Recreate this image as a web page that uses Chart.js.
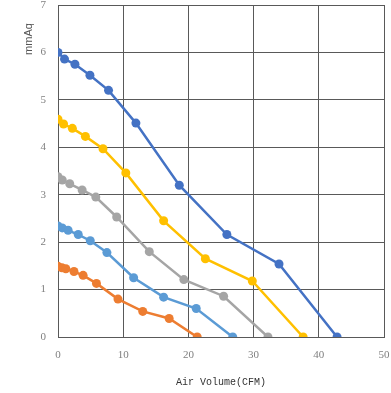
<!DOCTYPE html>
<html>
<head>
<meta charset="utf-8">
<script src="https://cdn.jsdelivr.net/npm/chart.js@4/dist/chart.umd.min.js"></script>
<style>
  html, body { margin: 0; padding: 0; background: #fff; }
  #wrap { width: 391px; height: 393px; }
</style>
</head>
<body>
<div id="wrap"><canvas id="pqChart" width="391" height="393"></canvas></div>
<script>
// fan P-Q curves, air volume (CFM) vs static pressure (mmAq)
const xTicks = [0, 10, 20, 30, 40, 50];
const yTicks = [0, 1, 2, 3, 4, 5, 6, 7];

const flowA = [0, 1.0, 2.6, 4.9, 7.75, 11.95, 18.6, 25.9, 33.9, 42.8];
const presA = [6.0, 5.86, 5.75, 5.52, 5.2, 4.51, 3.2, 2.16, 1.54, 0];

const flowB = [0, 0.85, 2.2, 4.2, 6.9, 10.4, 16.2, 22.6, 29.8, 37.6];
const presB = [4.59, 4.49, 4.4, 4.23, 3.97, 3.46, 2.45, 1.65, 1.18, 0];

const flowC = [0, 0.65, 1.8, 3.7, 5.8, 9.0, 14.0, 19.3, 25.4, 32.2];
const presC = [3.38, 3.31, 3.23, 3.1, 2.95, 2.53, 1.8, 1.21, 0.86, 0];

const flowD = [0, 0.65, 1.55, 3.1, 4.95, 7.5, 11.6, 16.2, 21.2, 26.8];
const presD = [2.34, 2.3, 2.25, 2.16, 2.03, 1.78, 1.25, 0.84, 0.6, 0];

const flowE = [0, 0.6, 1.2, 2.45, 3.85, 5.9, 9.2, 13.0, 17.05, 21.35];
const presE = [1.49, 1.46, 1.44, 1.38, 1.3, 1.13, 0.8, 0.54, 0.39, 0];

const colors = ['#4472C4', '#FFC000', '#A5A5A5', '#5B9BD5', '#ED7D31'];

function pts(xs, ys) {
  return xs.map((x, i) => ({ x: x, y: ys[i] }));
}

function curve(xs, ys, color) {
  return {
    data: pts(xs, ys),
    borderColor: color,
    backgroundColor: color,
    borderWidth: 2.5,
    pointRadius: 4.5,
    pointHoverRadius: 4.5,
    pointBorderWidth: 0,
    tension: 0
  };
}

// y axis title sits near the top, not centred
const yTitle = {
  id: 'yTitle',
  afterDraw(chart) {
    const c = chart.ctx;
    c.save();
    c.translate(29, 39);
    c.rotate(-Math.PI / 2);
    c.font = '11px "Liberation Sans", Arial, sans-serif';
    c.fillStyle = '#555';
    c.textAlign = 'center';
    c.textBaseline = 'middle';
    c.fillText('mmAq', 0, 0);
    c.restore();
  }
};

const gridColor = '#595959';
const tickFont = { family: '"Liberation Serif", "DejaVu Serif", serif', size: 11 };

new Chart(document.getElementById('pqChart'), {
  type: 'line',
  data: {
    datasets: [
      curve(flowA, presA, colors[0]),
      curve(flowB, presB, colors[1]),
      curve(flowC, presC, colors[2]),
      curve(flowD, presD, colors[3]),
      curve(flowE, presE, colors[4])
    ]
  },
  options: {
    responsive: false,
    animation: false,
    layout: { padding: { top: 5, right: 7, bottom: 0, left: 0 } },
    plugins: {
      legend: { display: false },
      tooltip: { enabled: false }
    },
    scales: {
      x: {
        type: 'linear',
        min: 0,
        max: 50,
        afterBuildTicks(scale) { scale.ticks = xTicks.map(v => ({ value: v })); },
        afterFit(scale) {
          scale.height = 56;
          scale.paddingLeft = 0;
          scale.paddingRight = 0;
        },
        grid: { color: gridColor, drawTicks: false, lineWidth: 1 },
        border: { color: gridColor, width: 1 },
        ticks: { color: '#808080', font: tickFont, padding: 12, maxRotation: 0 },
        title: {
          display: true,
          text: 'Air Volume(CFM)',
          color: '#333',
          font: { family: '"Liberation Mono", "DejaVu Sans Mono", monospace', size: 10 },
          padding: { top: 0, bottom: 5 }
        }
      },
      y: {
        type: 'linear',
        min: 0,
        max: 7,
        afterBuildTicks(scale) { scale.ticks = yTicks.map(v => ({ value: v })); },
        afterFit(scale) {
          scale.width = 58;
          scale.paddingTop = 0;
          scale.paddingBottom = 0;
        },
        grid: { color: gridColor, drawTicks: false, lineWidth: 1 },
        border: { color: gridColor, width: 1 },
        ticks: { color: '#808080', font: tickFont, padding: 12 }
      }
    }
  },
  plugins: [yTitle]
});
</script>
</body>
</html>
